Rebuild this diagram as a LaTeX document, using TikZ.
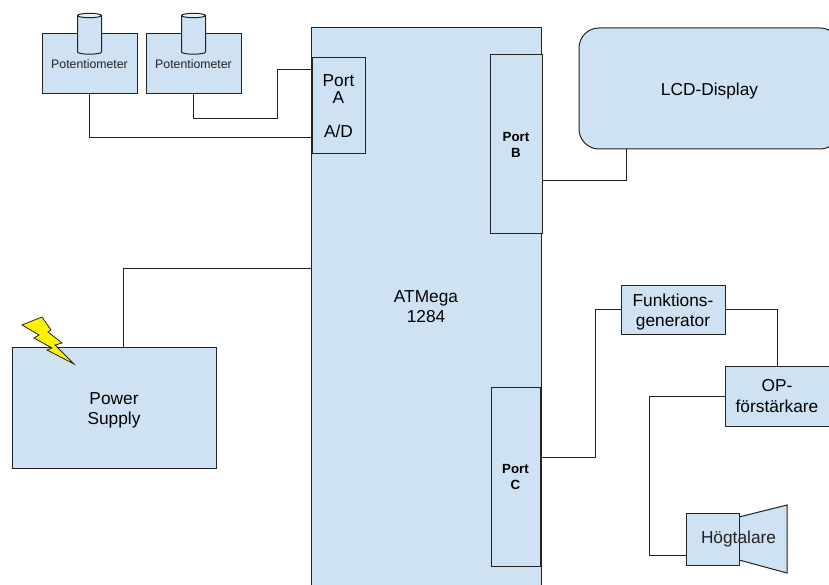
\documentclass[tikz,border=0pt]{standalone}
\usepackage{xcolor}
\usepackage{fontspec}
\setmainfont{Liberation Sans}
\usetikzlibrary{positioning,calc}
\definecolor{boxblue}{HTML}{CFE2F3}
\definecolor{edgegray}{HTML}{222222}
\newcommand{\fsize}[2]{\fontsize{#1}{#2}\selectfont}
\newcommand{\lowline}{\rule{0pt}{17.5pt}}
\tikzset{
  block/.style={draw=edgegray, fill=boxblue, line width=1pt, outer sep=0pt, inner sep=0pt, align=center, font=\fsize{17.3}{20.5}},
  potbox/.style={block, minimum width=95pt, minimum height=60pt, font=\fsize{12.3}{14}},
  portbig/.style={block, minimum width=51pt, minimum height=179pt, font=\bfseries\fsize{13.3}{16}},
  wire/.style={draw=edgegray, line width=0.9pt}
}
\begin{document}
\begin{tikzpicture}[x=1pt, y=-1pt]
\useasboundingbox (0,0) rectangle (829,585);
\node[potbox, anchor=north west] (pot1) at (42,34) {};
\node[potbox, right=9pt of pot1] (pot2) {};
% knobs on the two boxes
\foreach \p in {pot1,pot2} {
  \draw[draw=edgegray, fill=boxblue, line width=1pt] ($(\p.north)+(-12,-18.5)$) -- ($(\p.north)+(-12,18)$) arc[start angle=180, end angle=360, x radius=12pt, y radius=2.2pt] -- ($(\p.north)+(12,-18.5)$);
  \draw[draw=edgegray, fill=boxblue!55!white, line width=1pt] ($(\p.north)+(0,-18.5)$) ellipse[x radius=12pt, y radius=2.2pt];
}
\node[font=\fsize{12.3}{14}, inner sep=0pt, text=edgegray] (pot1text) at (pot1) {Potentiometer};
\node[font=\fsize{12.3}{14}, inner sep=0pt, text=edgegray] (pot2text) at (pot2) {Potentiometer};
\node[block, anchor=north west, minimum width=230pt, minimum height=557pt] (main) at (311,28) {ATMega\\1284};
\node[block, below right=30pt and 1pt of main.north west, minimum width=53pt, minimum height=96pt, font=\fsize{17.3}{17}] (porta) {Port\\A\\[17pt]A/D};
\node[portbig, below left=27pt and -1pt of main.north east, minimum width=52pt] (portb) {Port\\B};
\node[portbig, above left=19pt and 1pt of main.south east, minimum width=49pt] (portc) {Port\\C};
\node[block, below right=0pt and 38pt of main.north east, rounded corners=20pt, minimum width=261pt, minimum height=121pt] (lcd) {\lowline LCD-Display};
\node[block, anchor=north west, minimum width=204pt, minimum height=121pt] (power) at (12,347) {\lowline Power\\Supply};
\node[block, anchor=north west, minimum width=104pt, minimum height=49pt] (funk) at (621,285) {\lowline Funktions-\\generator};
\node[block, anchor=north west, minimum width=104pt, minimum height=60pt] (op) at (725,366) {OP-\\förstärkare};
\draw[block] (739,517) -- (787,505) -- (787,573) -- (739,560) -- cycle;
\node[block, anchor=north west, minimum width=53pt, minimum height=52pt] (spk) at (686,513) {};
\node[inner sep=0pt, font=\fsize{17.3}{20.5}, text=edgegray] (spktext) at (738.5,539) {Högtalare};
\draw[draw=edgegray, fill=yellow, line width=0.8pt] (22,325) -- (42,317) -- (51,330) -- (48,332) -- (62,343) -- (55,345) -- (74,364) -- (47,350) -- (52,348) -- (34,338) -- (39,335) -- cycle;
% wires
\coordinate (bendA) at (277,118);
\draw[wire] (pot1.south) |- ([yshift=17pt]porta.south west);
\draw[wire] (pot2.south) |- (bendA) |- ([yshift=-11pt]porta.north west);
\draw[wire] ([yshift=54pt]portb.south east) -| ([xshift=-83.5pt]lcd.south);
\draw[wire] ([yshift=38.5pt]main.west) -| ([xshift=9pt]power.north);
\draw[wire] ([yshift=19pt]portc.east) -| ([xshift=-26pt]funk.west) |- (funk.west);
\draw[wire] (funk.east) -| (op.north);
\draw[wire] (op.west) -| ([xshift=-37pt]spk.west) |- ([yshift=-16pt]spk.west);
\end{tikzpicture}
\end{document}
